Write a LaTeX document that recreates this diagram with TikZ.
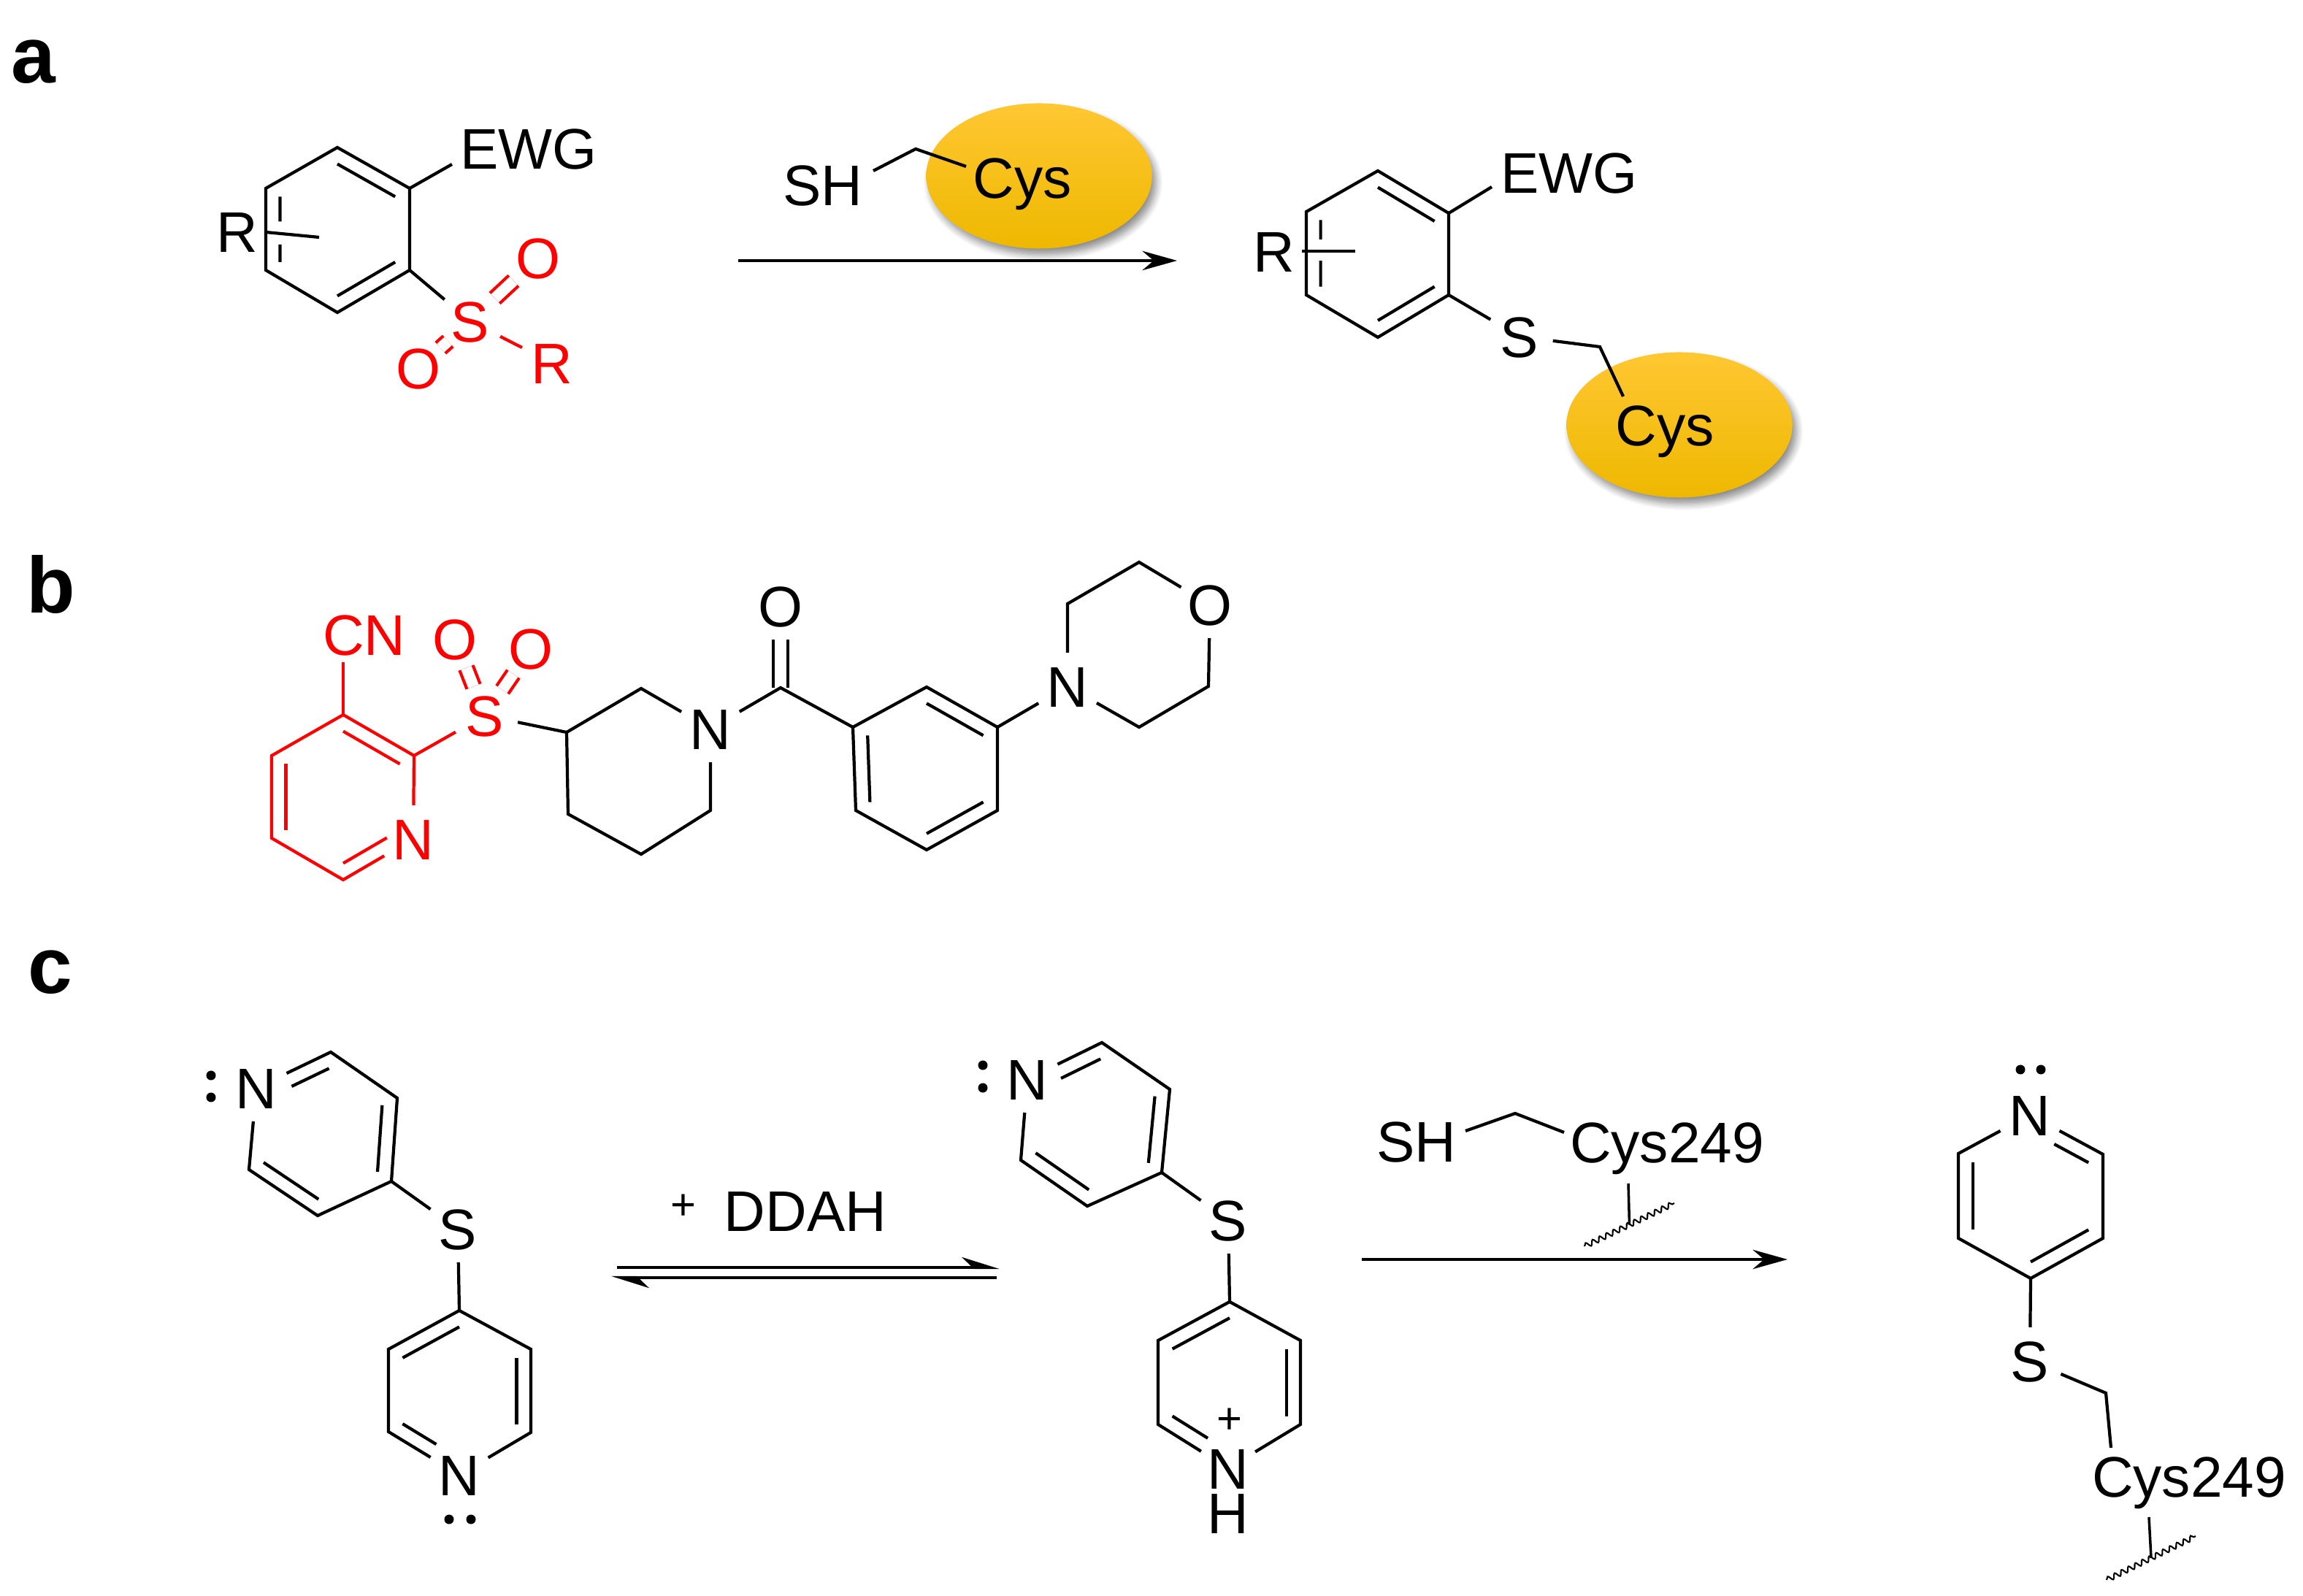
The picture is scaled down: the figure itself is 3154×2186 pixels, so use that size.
\documentclass[tikz,border=0pt]{standalone}
\usepackage{fontspec}
\setmainfont{Liberation Sans}
\usetikzlibrary{arrows.meta,calc,decorations.pathmorphing,shadows.blur,shapes.geometric}
\newcommand{\dbl}[4][]{\draw[#1] ($(#2)!.2!(#4)$) -- ($(#3)!.2!(#4)$);}
\begin{document}
\begin{tikzpicture}[
   x=.01cm, y=-.01cm, line width=1.2pt,
   txt/.style={font=\fontsize{22.3}{24}\selectfont, inner sep=0pt, text height=16pt, text depth=0pt},
   atom/.style={txt, circle, minimum size=25pt},
   panel/.style={font=\fontsize{31}{34}\selectfont\bfseries, inner sep=0pt, anchor=base west},
   small/.style={font=\fontsize{17}{20}\selectfont, inner sep=0pt},
   lp/.style={circle, fill, inner sep=0pt, minimum size=3.7pt},
   so/.style={double, double distance=4.3pt},
   rxn/.style={-{Stealth[length=13.5pt, width=7.5pt]}, line width=1.3pt},
   eq/.style={-{Stealth[harpoon, length=12.8pt, width=8pt]}, line width=1.2pt},
   blob/.style={ellipse, minimum width=88pt, minimum height=56.6pt, inner sep=0pt,
      top color=ffctop, middle color=ffcmid, bottom color=ffcbot,
      blur shadow={shadow xshift=1.6pt, shadow yshift=-2.4pt, shadow blur steps=8, shadow blur radius=2.6pt, shadow opacity=45}},
   wavy/.style={line width=.6pt, decorate, decoration={snake, segment length=3pt, amplitude=1pt}}]
\definecolor{ffctop}{HTML}{FFC732}
\definecolor{ffcmid}{HTML}{FFC400}
\definecolor{ffcbot}{HTML}{EEB800}
\useasboundingbox (0,0) rectangle (3154,2186);

\node[panel] (pa) at (13,114) {a};
\node[panel] (pb) at (34,840) {b};
\node[panel] (pc) at (36,1360) {c};

\coordinate (aa1) at (462,202); \coordinate (aa2) at (561,258); \coordinate (aa3) at (561,370);
\coordinate (aa4) at (462,428); \coordinate (aa5) at (364,370); \coordinate (aa6) at (364,258);
\coordinate (aac) at (462,315);
\draw (aa1) -- (aa2) -- (aa3) -- (aa4) -- (aa5) -- (aa6) -- cycle;
\dbl{aa1}{aa2}{aac}
\dbl{aa3}{aa4}{aac}
\coordinate (ai1) at ($(aa6)!.2!(aac)$);
\coordinate (ai2) at ($(aa5)!.2!(aac)$);
\draw (ai1) -- ($(ai1)!.38!(ai2)$);
\draw (ai2) -- ($(ai2)!.27!(ai1)$);
\node[txt, fill=white] (ra) at (325,317) {R};
\coordinate (ras) at (364,318);
\coordinate (rae) at (437,325);
\draw (ras) -- (rae);
\node[txt] (ewga) at (724,203) {EWG};
\coordinate (ewgae) at (619,225);
\draw (aa2) -- (ewgae);
\node[atom, red] (sa) at (644,440) {S};
\node[atom, red] (oa1) at (737,353) {O};
\node[atom, red] (oa2) at (573,504) {O};
\node[atom, red] (ra2) at (756,497) {R};
\draw (aa3) -- (sa);
\draw[so, red] (sa) -- (oa1);
\draw[so, red, shorten <=-1.5pt, shorten >=-1.5pt] (sa) -- (oa2);
\draw[red] (sa) -- (ra2);

\node[txt] (sha) at (1127,253) {SH};
\node[blob] (cysa) at (1423,241) {};
\coordinate (ch2a) at (1254,204);
\coordinate (sha1) at (1196,234);
\coordinate (sha2) at (1323,228);
\draw (sha1) -- (ch2a) -- (sha2);
\node[txt] (cysat) at (1400,243) {Cys};
\coordinate (arra1) at (1011,357);
\coordinate (arra2) at (1612,357);
\draw[rxn] (arra1) -- (arra2);

\coordinate (ab1) at (1887,234); \coordinate (ab2) at (1984,292); \coordinate (ab3) at (1984,404);
\coordinate (ab4) at (1887,462); \coordinate (ab5) at (1789,404); \coordinate (ab6) at (1789,290);
\coordinate (abc) at (1887,347);
\draw (ab1) -- (ab2) -- (ab3) -- (ab4) -- (ab5) -- (ab6) -- cycle;
\dbl{ab1}{ab2}{abc}
\dbl{ab3}{ab4}{abc}
\coordinate (bi1) at ($(ab6)!.2!(abc)$);
\coordinate (bi2) at ($(ab5)!.2!(abc)$);
\draw (bi1) -- ($(bi1)!.29!(bi2)$);
\draw (bi2) -- ($(bi2)!.39!(bi1)$);
\node[txt, fill=white] (rb) at (1745,344) {R};
\coordinate (rbs) at (1783,344);
\coordinate (rbe) at (1856,344);
\draw (rbs) -- (rbe);
\node[txt] (ewgb) at (2149,236) {EWG};
\coordinate (ewgbe) at (2043,256);
\draw (ab2) -- (ewgbe);
\node[atom] (sb) at (2081,461) {S};
\draw (ab3) -- (sb);
\node[blob] (cysb) at (2300,582) {};
\coordinate (ch2b) at (2191,475);
\coordinate (cysbe) at (2223,543);
\draw (sb) -- (ch2b) -- (cysbe);
\node[txt] (cysbt) at (2280,582) {Cys};

\coordinate (py1) at (470,979); \coordinate (py2) at (567,1035); \node[atom, red] (pyn) at (566,1149) {N};
\coordinate (py4) at (470,1205); \coordinate (py5) at (372,1148); \coordinate (py6) at (372,1035);
\coordinate (pyc) at (470,1092);
\draw[red] (py2) -- (py1) -- (py6) -- (py5) -- (py4) -- (pyn) -- (py2);
\dbl[red]{py1}{py2}{pyc}
\dbl[red]{py5}{py6}{pyc}
\dbl[red, shorten >=5.6pt]{py4}{pyn}{pyc}
\node[txt, red] (cn) at (499,869) {CN};
\coordinate (cne) at (470,907);
\draw[red] (py1) -- (cne);
\node[atom, red] (sc) at (664,980) {S};
\node[atom, red] (ob1) at (623,875) {O};
\node[atom, red] (ob2) at (727,888) {O};
\draw[red] (py2) -- (sc);
\draw[so, red, shorten <=-1pt, shorten >=-1pt] (sc) -- (ob1);
\draw[so, red, shorten <=-1pt, shorten >=-1pt] (sc) -- (ob2);

\coordinate (pi1) at (776,1003); \coordinate (pi2) at (878,943); \node[atom] (pin) at (973,998) {N};
\coordinate (pi4) at (973,1110); \coordinate (pi5) at (878,1170); \coordinate (pi6) at (778,1115);
\draw (sc) -- (pi1);
\draw (pin) -- (pi2) -- (pi1) -- (pi6) -- (pi5) -- (pi4) -- (pin);
\coordinate (cob) at (1069,942);
\node[atom] (ob3) at (1069,830) {O};
\draw[so] (ob3) -- (cob);

\coordinate (bz1) at (1168,996); \coordinate (bz2) at (1269,941); \coordinate (bz3) at (1366,996);
\coordinate (bz4) at (1366,1110); \coordinate (bz5) at (1269,1164); \coordinate (bz6) at (1172,1110);
\coordinate (bzc) at (1269,1053);
\draw (pin) -- (cob) -- (bz1);
\draw (bz1) -- (bz2) -- (bz3) -- (bz4) -- (bz5) -- (bz6) -- cycle;
\dbl{bz2}{bz3}{bzc}
\dbl{bz1}{bz6}{bzc}
\dbl{bz4}{bz5}{bzc}

\node[atom] (mon) at (1462,940) {N};
\coordinate (mo2) at (1462,827); \coordinate (mo3) at (1560,770);
\node[atom] (moo) at (1657,828) {O};
\coordinate (mo5) at (1655,940); \coordinate (mo6) at (1560,996);
\draw (bz3) -- (mon);
\draw (mon) -- (mo2) -- (mo3) -- (moo) -- (mo5) -- (mo6) -- (mon);

\node[atom] (can) at (351,1490) {N};
\coordinate (ca2) at (453,1441); \coordinate (ca3) at (544,1504); \coordinate (ca4) at (536,1618);
\coordinate (ca5) at (435,1665); \coordinate (ca6) at (341,1602); \coordinate (cac) at (441,1553);
\draw (can) -- (ca2) -- (ca3) -- (ca4) -- (ca5) -- (ca6) -- (can);
\dbl[shorten >=9.6pt]{ca2}{can}{cac}
\dbl{ca3}{ca4}{cac}
\dbl{ca5}{ca6}{cac}
\node[lp] (lpa1) at (289,1473) {};
\node[lp] (lpa2) at (289,1503) {};
\node[atom] (sd) at (627,1683) {S};
\coordinate (cb1) at (629,1795); \coordinate (cb2) at (532,1848); \coordinate (cb3) at (532,1961);
\node[atom] (cbn) at (629,2020) {N};
\coordinate (cb5) at (727,1962); \coordinate (cb6) at (727,1848); \coordinate (cbc) at (629,1907);
\draw (ca4) -- (sd) -- (cb1);
\draw (cb1) -- (cb2) -- (cb3) -- (cbn) -- (cb5) -- (cb6) -- (cb1);
\dbl{cb1}{cb2}{cbc}
\dbl{cb5}{cb6}{cbc}
\dbl[shorten >=10.5pt]{cb3}{cbn}{cbc}
\node[lp] (lpb1) at (615,2081) {};
\node[lp] (lpb2) at (645,2081) {};

\node[small] (plusa) at (936,1653) {+};
\node[txt] (ddah) at (1103,1658) {DDAH};
\coordinate (eqa1) at (845,1736); \coordinate (eqa2) at (1369,1736);
\coordinate (eqb1) at (1365,1750); \coordinate (eqb2) at (837,1750);
\draw[eq] (eqa1) -- (eqa2);
\draw[eq] (eqb1) -- (eqb2);

\node[atom] (ccn) at (1407,1478) {N};
\coordinate (cc2) at (1509,1428); \coordinate (cc3) at (1602,1492); \coordinate (cc4) at (1591,1606);
\coordinate (cc5) at (1489,1652); \coordinate (cc6) at (1398,1589); \coordinate (ccc) at (1500,1540);
\draw (ccn) -- (cc2) -- (cc3) -- (cc4) -- (cc5) -- (cc6) -- (ccn);
\dbl[shorten >=8.7pt]{cc2}{ccn}{ccc}
\dbl{cc3}{cc4}{ccc}
\dbl{cc5}{cc6}{ccc}
\node[lp] (lpc1) at (1346,1459) {};
\node[lp] (lpc2) at (1346,1490) {};
\node[atom] (se) at (1682,1671) {S};
\coordinate (ce1) at (1684,1783); \coordinate (ce2) at (1586,1836); \coordinate (ce3) at (1586,1951);
\node[txt, outer sep=2.5pt] (cen) at (1682,2011) {N};
\coordinate (ce5) at (1781,1951); \coordinate (ce6) at (1781,1836); \coordinate (cec) at (1684,1894);
\draw (cc4) -- (se) -- (ce1);
\draw (ce1) -- (ce2) -- (ce3) -- (cen) -- (ce5) -- (ce6) -- (ce1);
\dbl{ce1}{ce2}{cec}
\dbl{ce5}{ce6}{cec}
\dbl[shorten >=9.5pt]{ce3}{cen}{cec}
\node[small] (plusb) at (1684,1946) {+};
\node[txt] (hn) at (1682,2072) {H};

\node[txt] (shc) at (1940,1563) {SH};
\node[txt] (cysc) at (2283,1564) {Cys249};
\coordinate (shc1) at (2007,1549); \coordinate (ch2c) at (2075,1525); \coordinate (shc2) at (2142,1551);
\draw (shc1) -- (ch2c) -- (shc2);
\coordinate (wva1) at (2170,1707); \coordinate (wva2) at (2293,1648); \coordinate (stma) at (2230,1621);
\draw[line width=1pt] (stma) -- ($(wva1)!.5!(wva2)$);
\draw[wavy] (wva1) -- (wva2);
\coordinate (arrc1) at (1865,1725); \coordinate (arrc2) at (2448,1725);
\draw[rxn] (arrc1) -- (arrc2);

\node[atom] (cfn) at (2780,1527) {N};
\coordinate (cf2) at (2682,1580); \coordinate (cf3) at (2682,1696); \coordinate (cf4) at (2781,1751);
\coordinate (cf5) at (2880,1696); \coordinate (cf6) at (2880,1581); \coordinate (cfc) at (2781,1638);
\draw (cfn) -- (cf2) -- (cf3) -- (cf4) -- (cf5) -- (cf6) -- (cfn);
\dbl{cf2}{cf3}{cfc}
\dbl{cf4}{cf5}{cfc}
\dbl[shorten >=10.7pt]{cf6}{cfn}{cfc}
\node[lp] (lpd1) at (2767,1465) {};
\node[lp] (lpd2) at (2795,1465) {};
\node[atom] (sf) at (2780,1864) {S};
\node[txt] (cysd) at (2998,2022) {Cys249};
\coordinate (ch2d) at (2884,1908); \coordinate (cysde) at (2891,1983);
\draw (cf4) -- (sf) -- (ch2d) -- (cysde);
\coordinate (wvb1) at (2885,2164); \coordinate (wvb2) at (3007,2104); \coordinate (stmb) at (2943,2078);
\draw[line width=1pt] (stmb) -- ($(wvb1)!.5!(wvb2)$);
\draw[wavy] (wvb1) -- (wvb2);

\end{tikzpicture}
\end{document}
